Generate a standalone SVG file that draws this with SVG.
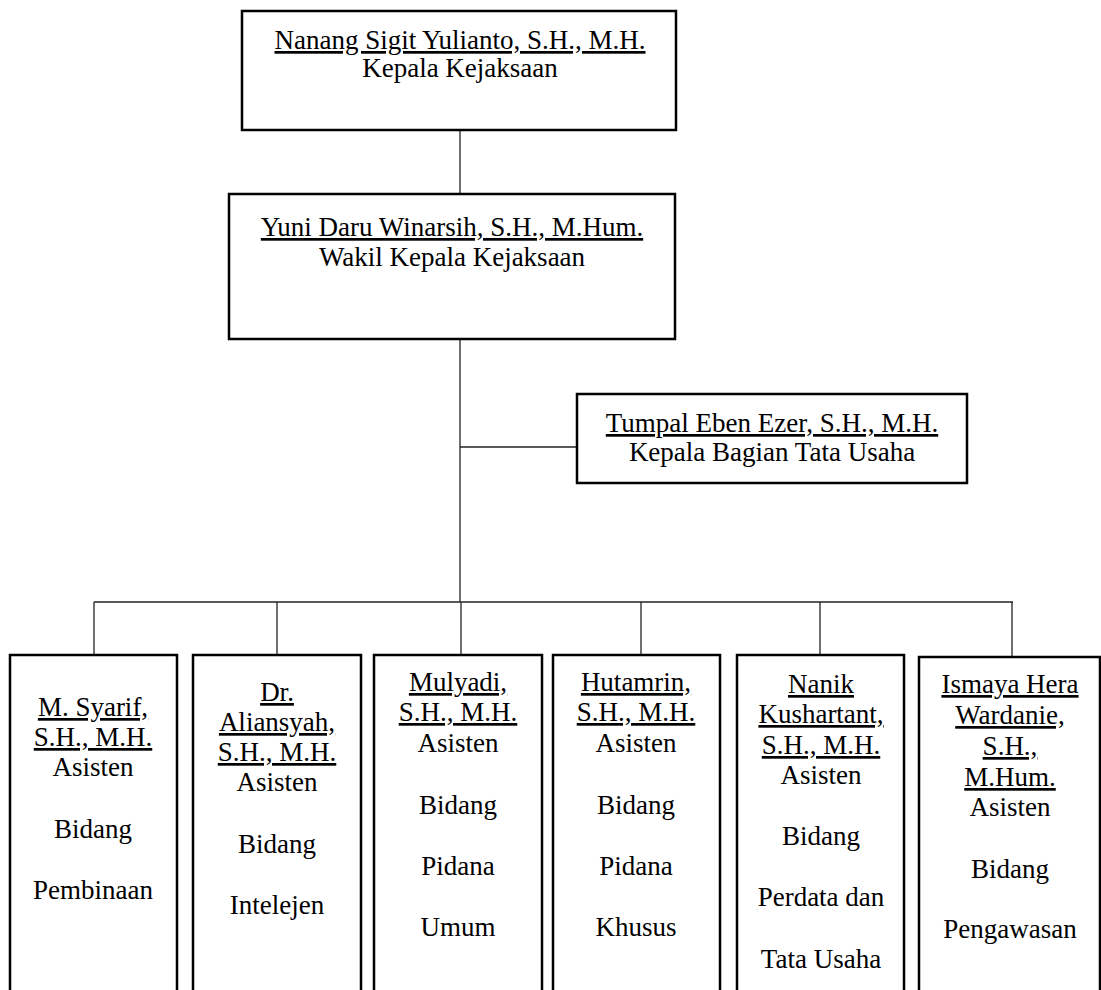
<svg xmlns="http://www.w3.org/2000/svg" width="1101" height="990" viewBox="0 0 1101 990">
<style>
.box{fill:#fff;stroke:#000;stroke-width:2.5}
.ln{stroke:#222;stroke-width:1.3;fill:none}
text{font-family:"Liberation Serif","Times New Roman",serif;font-size:27px;fill:#000;text-anchor:middle}
.u{text-decoration:underline}
</style>
<rect width="1101" height="990" fill="#fff"/>
<g id="connectors">
<line class="ln" x1="460" y1="130" x2="460" y2="194"/>
<line class="ln" x1="460" y1="339" x2="460" y2="602"/>
<line class="ln" x1="460" y1="447" x2="577" y2="447"/>
<line class="ln" x1="94" y1="602" x2="1013" y2="602"/>
<line class="ln" x1="94" y1="602" x2="94" y2="655"/>
<line class="ln" x1="277" y1="602" x2="277" y2="655"/>
<line class="ln" x1="461" y1="602" x2="461" y2="655"/>
<line class="ln" x1="641" y1="602" x2="641" y2="655"/>
<line class="ln" x1="820" y1="602" x2="820" y2="655"/>
<line class="ln" x1="1012" y1="602" x2="1012" y2="657"/>
</g>
<g id="kepala">
<rect class="box" x="242" y="11" width="434" height="119"/>
<text x="460" y="49" class="u">Nanang Sigit Yulianto, S.H., M.H.</text>
<text x="460" y="77">Kepala Kejaksaan</text>
</g>
<g id="wakil">
<rect class="box" x="229" y="194" width="446" height="145"/>
<text x="452" y="236" class="u">Yuni Daru Winarsih, S.H., M.Hum.</text>
<text x="452" y="266">Wakil Kepala Kejaksaan</text>
</g>
<g id="tatausaha">
<rect class="box" x="577" y="394" width="390" height="89"/>
<text x="772" y="432" class="u">Tumpal Eben Ezer, S.H., M.H.</text>
<text x="772" y="461">Kepala Bagian Tata Usaha</text>
</g>
<g id="pembinaan">
<rect class="box" x="10" y="655" width="167" height="345"/>
<text x="93" y="716" class="u">M. Syarif,</text>
<text x="93" y="746" class="u">S.H., M.H.</text>
<text x="93" y="776">Asisten</text>
<text x="93" y="838">Bidang</text>
<text x="93" y="899">Pembinaan</text>
</g>
<g id="intelejen">
<rect class="box" x="193" y="655" width="168" height="345"/>
<text x="277" y="701" class="u">Dr.</text>
<text x="277" y="731" class="u">Aliansyah,</text>
<text x="277" y="761" class="u">S.H., M.H.</text>
<text x="277" y="791">Asisten</text>
<text x="277" y="853">Bidang</text>
<text x="277" y="914">Intelejen</text>
</g>
<g id="pidum">
<rect class="box" x="374" y="655" width="168" height="345"/>
<text x="458" y="691" class="u">Mulyadi,</text>
<text x="458" y="721" class="u">S.H., M.H.</text>
<text x="458" y="752">Asisten</text>
<text x="458" y="814">Bidang</text>
<text x="458" y="875">Pidana</text>
<text x="458" y="936">Umum</text>
</g>
<g id="pidsus">
<rect class="box" x="553" y="655" width="167" height="345"/>
<text x="636" y="691" class="u">Hutamrin,</text>
<text x="636" y="721" class="u">S.H., M.H.</text>
<text x="636" y="752">Asisten</text>
<text x="636" y="814">Bidang</text>
<text x="636" y="875">Pidana</text>
<text x="636" y="936">Khusus</text>
</g>
<g id="datun">
<rect class="box" x="737" y="655" width="167" height="345"/>
<text x="821" y="693" class="u">Nanik</text>
<text x="821" y="723" class="u">Kushartant,</text>
<text x="821" y="754" class="u">S.H., M.H.</text>
<text x="821" y="784">Asisten</text>
<text x="821" y="845">Bidang</text>
<text x="821" y="906">Perdata dan</text>
<text x="821" y="968">Tata Usaha</text>
</g>
<g id="pengawasan">
<rect class="box" x="919" y="657" width="181" height="345"/>
<text x="1010" y="693" class="u">Ismaya Hera</text>
<text x="1010" y="724" class="u">Wardanie,</text>
<text x="1010" y="755" class="u">S.H.,</text>
<text x="1010" y="786" class="u">M.Hum.</text>
<text x="1010" y="816">Asisten</text>
<text x="1010" y="878">Bidang</text>
<text x="1010" y="938">Pengawasan</text>
</g>
</svg>
